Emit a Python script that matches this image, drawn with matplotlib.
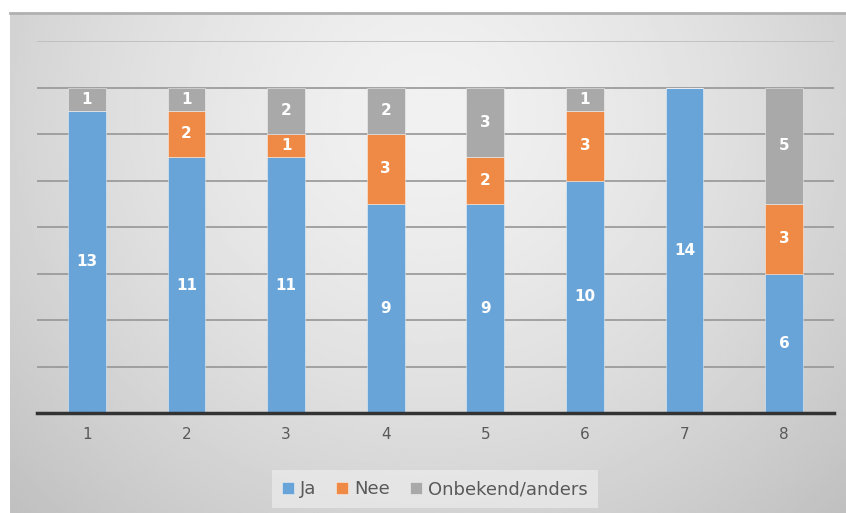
import numpy as np
import matplotlib
matplotlib.use("Agg")
import matplotlib.pyplot as plt

# stacked answers per question
categories = ['1', '2', '3', '4', '5', '6', '7', '8']
ja = [13, 11, 11, 9, 9, 10, 14, 6]
nee = [0, 2, 1, 3, 2, 3, 0, 3]
onbekend = [1, 1, 2, 2, 3, 1, 0, 5]
series_names = ['Ja', 'Nee', 'Onbekend/anders']
colors = ['#69A4D8', '#EE8A45', '#A9A9A9']

fig = plt.figure(figsize=(8.46, 5.13), dpi=100)

# gradient background (Excel style)
bg = fig.add_axes([10 / 846, 0, 1 - 10 / 846, 500 / 513])
yy, xx = np.mgrid[0:1:200j, 0:1:300j]
r = np.sqrt(((xx - 0.5) / 0.6) ** 2 + ((yy - 0.2) / 0.95) ** 2)
grad = 0.945 - 0.15 * np.clip(r, 0, 1.2) ** 1.5
bg.imshow(grad, cmap='gray', vmin=0, vmax=1, aspect='auto', extent=(0, 1, 1, 0))
bg.set_axis_off()
bg.plot([0, 1], [1.0, 1.0], color='#b0b0b0', lw=2, transform=bg.transAxes, clip_on=False)

ax = fig.add_axes([37 / 846, 100 / 513, 797 / 846, 372 / 513])
ax.patch.set_alpha(0)
x = np.arange(1, len(categories) + 1)
w = 0.38
bottom = np.zeros(len(categories))
for vals, name, c in zip([ja, nee, onbekend], series_names, colors):
    vals = np.array(vals)
    ax.bar(x, vals, w, bottom=bottom, color=c, label=name,
           edgecolor=(1, 1, 1, 0.5), linewidth=0.6, zorder=3)
    for xi, b, v in zip(x, bottom, vals):
        if v > 0:
            ax.text(xi, b + v / 2, str(v), ha='center', va='center', color='white',
                    fontsize=11, fontweight='bold', zorder=4)
    bottom += vals

ax.set_xlim(0.5, 8.5)
ax.set_ylim(0, 16)
ax.set_yticks(np.arange(2, 17, 2))
ax.yaxis.grid(True, color='#969696', lw=1.2, zorder=1)
ax.get_ygridlines()[-1].set_color('#bcbcbc')
ax.tick_params(axis='y', left=False, labelleft=False)
ax.set_xticks(x)
ax.set_xticklabels(categories, color='#595959', fontsize=11)
ax.tick_params(axis='x', length=0, pad=10)
for s in ['top', 'right', 'left']:
    ax.spines[s].set_visible(False)
ax.spines['bottom'].set_color('#333333')
ax.spines['bottom'].set_linewidth(2.5)
ax.spines['bottom'].set_zorder(5)

leg = fig.legend(loc='center', bbox_to_anchor=(435 / 846, 1 - 489 / 513), ncol=3,
                 frameon=True, fontsize=13, handlelength=0.65, handleheight=0.65,
                 handletextpad=0.35, columnspacing=1.1, borderpad=0.55)
leg.get_frame().set_facecolor('#ececec')
leg.get_frame().set_edgecolor('none')
leg.get_frame().set_alpha(0.7)
leg.get_frame().set_boxstyle('square', pad=0.0)
for t in leg.get_texts():
    t.set_color('#595959')

fig.savefig('out.png', dpi=100)
